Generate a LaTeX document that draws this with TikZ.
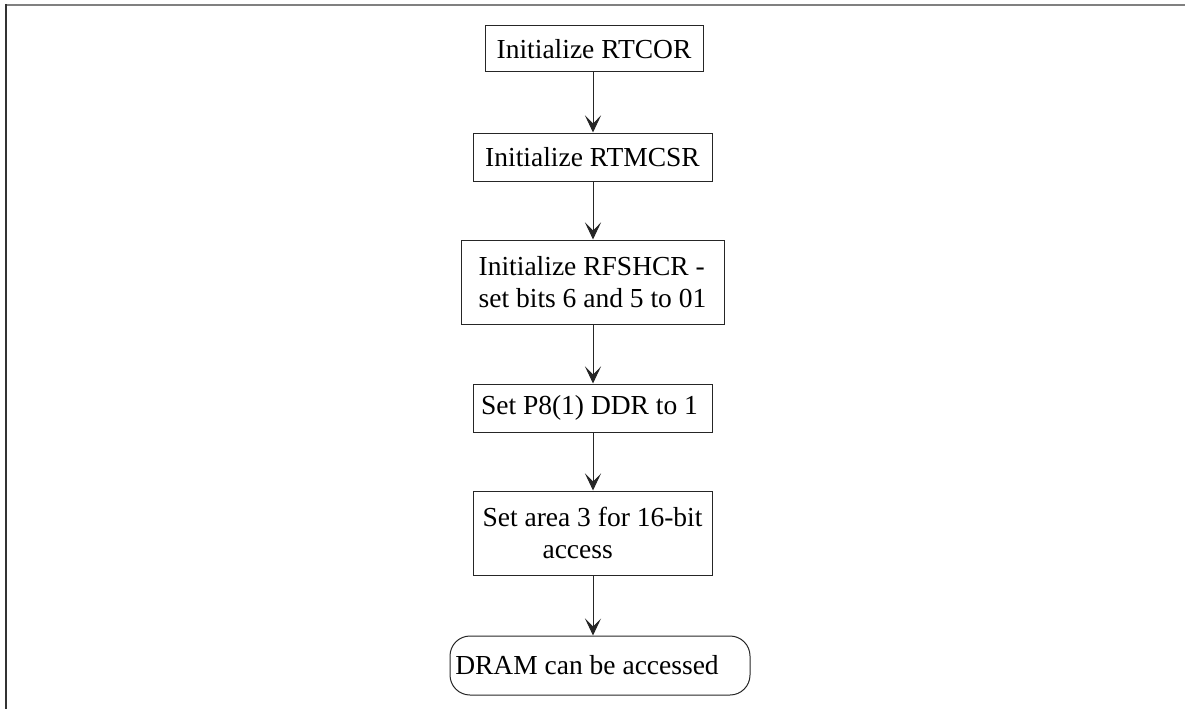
\documentclass[tikz,border=0pt]{standalone}
\usepackage{fontspec}
\setmainfont{Liberation Serif}
\usetikzlibrary{arrows.meta}
\begin{document}
\begin{tikzpicture}[x=1pt,y=-1pt,
  box/.style={draw=black!85, line width=1pt, inner sep=0pt, font=\fontsize{27.5}{32}\selectfont},
  term/.style={box, rounded corners=20pt},
  arr/.style={draw=black!85, line width=1pt, -{Stealth[length=17pt,width=16pt,inset=8pt]}}]
\useasboundingbox (0,0) rectangle (1186,709);
% frame
\draw[gray, line width=2pt] (5,5) -- (1185,5);
\draw[black!80, line width=1.6pt] (6,4) -- (6,709);
% nodes
\node[box, minimum width=218pt, minimum height=46pt] (b1) at (594,49) {Initialize RTCOR};
\node[box, minimum width=239pt, minimum height=48pt] (b2) at (592.5,157) {Initialize RTMCSR};
\node[box, minimum width=263pt, minimum height=84pt, align=left] (b3) at (592.5,282) {Initialize RFSHCR -\\set bits 6 and 5 to 01};
\node[box, minimum width=239pt, minimum height=48pt] (b4) at (592.5,408) {Set P8(1) DDR to 1\hspace*{6pt}};
\node[box, minimum width=239pt, minimum height=84pt, align=left] (b5) at (592.5,533) {Set area 3 for 16-bit\\\hspace*{60pt}access};
\node[term, minimum width=300pt, minimum height=59pt] (t) at (600,665.5) {DRAM can be accessed\hspace*{26pt}};
% connectors
\coordinate (x) at (593,0);
\draw[arr] (b1.south -| x) -- (b2.north -| x);
\draw[arr] (b2.south -| x) -- (b3.north -| x);
\draw[arr] (b3.south -| x) -- (b4.north -| x);
\draw[arr] (b4.south -| x) -- (b5.north -| x);
\draw[arr] (b5.south -| x) -- (t.north -| x);
\end{tikzpicture}
\end{document}
